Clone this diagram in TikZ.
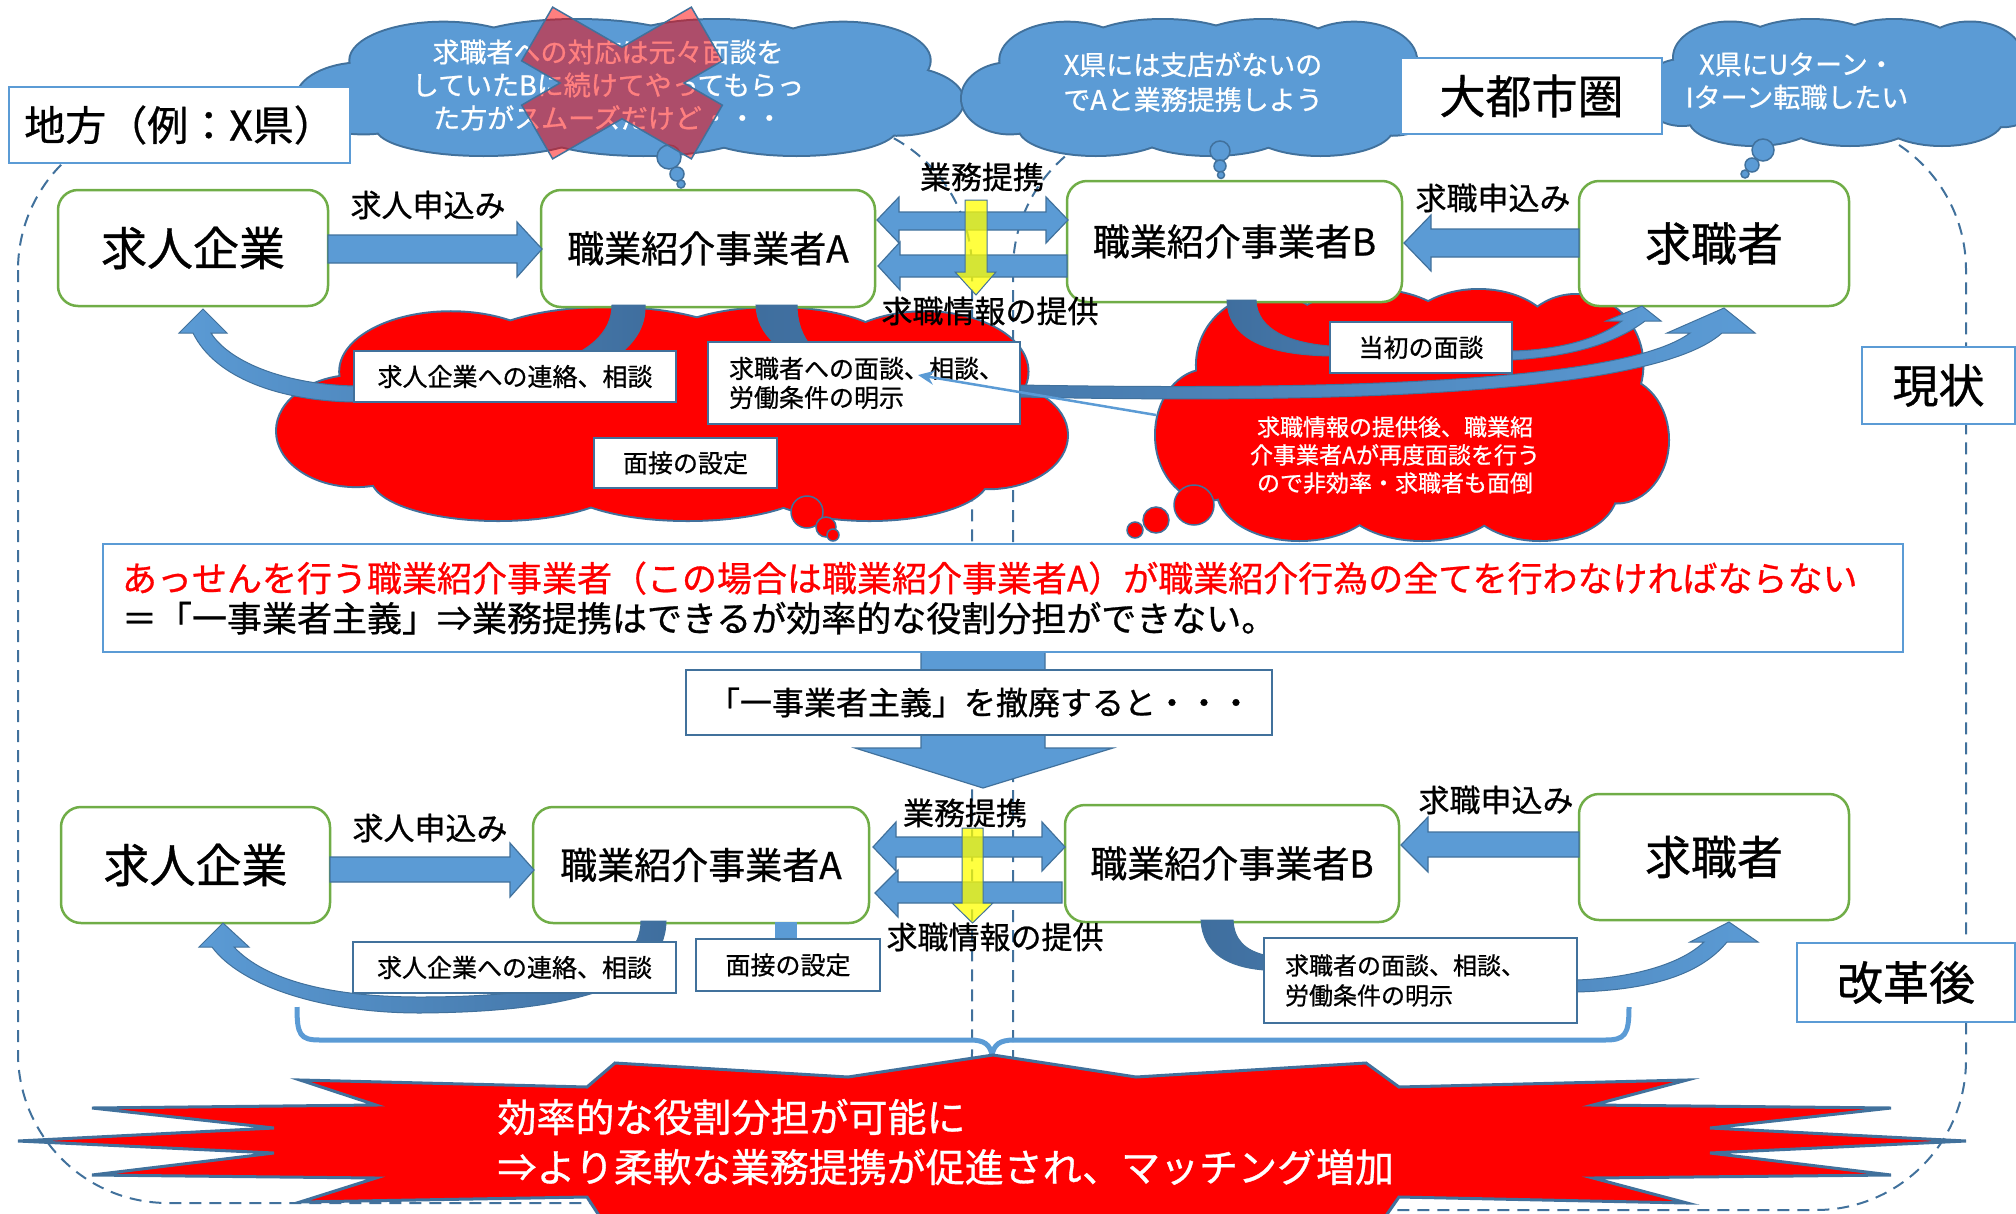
\documentclass[tikz,border=0pt]{standalone}
\usepackage{fontspec}
\setmainfont{Noto Sans CJK JP}[FakeBold=0.8]
\usetikzlibrary{arrows.meta}
\definecolor{ablue}{HTML}{5B9BD5}
\definecolor{dblue}{HTML}{3F6E9E}
\definecolor{bline}{HTML}{41719C}
\definecolor{lline}{HTML}{5B9BD5}
\definecolor{ngreen}{HTML}{70AD47}
\definecolor{cred}{HTML}{FF0000}
\definecolor{cyel}{HTML}{FFFF00}
\newcommand\setfs[2]{\fontsize{#1}{#2}\selectfont}
\def\cloudlobes{0.10/0.58/0.10/0.26, 0.22/0.30/0.14/0.28, 0.42/0.20/0.17/0.20, 0.63/0.20/0.15/0.20, 0.82/0.30/0.13/0.28, 0.90/0.60/0.10/0.25, 0.75/0.80/0.15/0.20, 0.52/0.82/0.16/0.18, 0.28/0.80/0.16/0.20, 0.50/0.52/0.38/0.34}
% #1 left, #2 top, #3 width, #4 height, #5 fill colour
\newcommand\puffcloud[5]{%
  \foreach \fx/\fy/\rx/\ry in \cloudlobes {%
    \pgfmathsetmacro\PX{#1+\fx*#3}\pgfmathsetmacro\PY{#2+\fy*#4}%
    \pgfmathsetmacro\RX{\rx*#3}\pgfmathsetmacro\RY{\ry*#4}%
    \draw[bline,line width=4pt] (\PX,\PY) ellipse[x radius=\RX pt,y radius=\RY pt];}%
  \foreach \fx/\fy/\rx/\ry in \cloudlobes {%
    \pgfmathsetmacro\PX{#1+\fx*#3}\pgfmathsetmacro\PY{#2+\fy*#4}%
    \pgfmathsetmacro\RX{\rx*#3}\pgfmathsetmacro\RY{\ry*#4}%
    \fill[#5] (\PX,\PY) ellipse[x radius=\RX pt,y radius=\RY pt];}%
}
\begin{document}
\begin{tikzpicture}[x=1pt,y=-1pt,
 nd/.style={draw=ngreen,line width=2.5pt,rounded corners=20pt,fill=white,inner sep=0pt,font=\setfs{46}{50}},
 ndab/.style={nd,font=\setfs{37}{40}},
 lbl/.style={draw=bline,line width=2pt,fill=white,inner sep=0pt,font=\setfs{25}{29}},
 tbox/.style={draw=lline,line width=2pt,fill=white,inner sep=0pt,font=\setfs{46}{50}},
 barrow/.style={fill=ablue,draw=bline,line width=1.2pt},
 yarrow/.style={fill=cyel,fill opacity=0.75,draw=bline,line width=1pt},
 bub/.style={fill=ablue,draw=bline,line width=1.5pt},
 rbub/.style={fill=cred,draw=bline,line width=1.5pt},
 region/.style={draw=bline,line width=2pt,dash pattern=on 12pt off 8pt,rounded corners=150pt},
 curv/.style={draw=bline,line width=1pt},
 ctext/.style={text=white,align=center,font=\setfs{27}{34}},
 alabel/.style={font=\setfs{31}{34}}]
\useasboundingbox (0,0) rectangle (2016,1213);
\clip (0,0) rectangle (2016,1213);

% ---------- regions ----------
\draw[region] (18,120) rectangle (972,1203);
\draw[region] (1013,120) rectangle (1966,1210);

% ---------- top clouds ----------
\puffcloud{297}{20}{666}{135}{ablue}
\coordinate (cloudL) at (630,88);
\draw[bub] (669,157) circle[radius=12pt];
\draw[bub] (677,174) circle[radius=7pt];
\draw[bub] (681,184) circle[radius=4pt];
\node[ctext,font=\setfs{27}{33}] (cloudLt) at (608,85) {求職者への対応は元々面談を\\していたBに続けてやってもらっ\\た方がスムーズだけど・・・};
\path[fill=cred,fill opacity=0.5,draw=bline,line width=1.5pt] (552.63,7.15) -- (622,47.2) -- (691.37,7.15) -- (722.37,60.85) -- (684,83) -- (722.37,105.15) -- (691.37,158.85) -- (622,118.8) -- (552.63,158.85) -- (521.63,105.15) -- (560,83) -- (521.63,60.85) -- cycle;

\puffcloud{962}{20}{478}{135}{ablue}
\coordinate (cloudM) at (1200,88);
\draw[bub] (1220,151) circle[radius=10pt];
\draw[bub] (1220,166) circle[radius=6pt];
\draw[bub] (1221,175) circle[radius=3.5pt];
\node[ctext,font=\setfs{27}{35}] (cloudMt) at (1193,82) {X県には支店がないの\\でAと業務提携しよう};

\puffcloud{1642}{20}{400}{125}{ablue}
\coordinate (cloudR) at (1840,82);
\draw[bub] (1763,150) circle[radius=11pt];
\draw[bub] (1752,165) circle[radius=7pt];
\draw[bub] (1745,174) circle[radius=4pt];
\node[ctext,font=\setfs{27}{33}] (cloudRt) at (1797,81) {X県にUターン・\\Iターン転職したい};

\node[tbox,minimum width=341pt,minimum height=76pt,font=\setfs{41}{44}] (chiho) at (179.5,125) {地方（例：X県）};
\node[tbox,minimum width=261pt,minimum height=76pt] (daitoshi) at (1531.5,96) {大都市圏};

% ---------- red clouds (current) ----------
\puffcloud{277}{308}{790}{212}{cred}
\draw[rbub] (807,512) circle[radius=16pt];
\draw[rbub] (826,527) circle[radius=10pt];
\draw[rbub] (833,535) circle[radius=6pt];
\puffcloud{1156}{290}{512}{250}{cred}
\draw[rbub] (1194,505) circle[radius=20pt];
\draw[rbub] (1156,520) circle[radius=13pt];
\draw[rbub] (1135,530) circle[radius=8pt];
\node[ctext,font=\setfs{23}{28}] (redRt) at (1395,455) {求職情報の提供後、職業紹\\介事業者Aが再度面談を行う\\ので非効率・求職者も面倒};

% ---------- top row nodes ----------
\node[nd,minimum width=270pt,minimum height=116pt] (kyujinT) at (193,248) {求人企業};
\node[ndab,minimum width=334pt,minimum height=117pt] (aT) at (708,248.5) {職業紹介事業者A};
\node[ndab,minimum width=335pt,minimum height=121pt] (bT) at (1234.5,241.5) {職業紹介事業者B};
\node[nd,minimum width=270pt,minimum height=125pt] (kyushokuT) at (1714,243.5) {求職者};

% curved arrows (top)
\path[curv,left color=ablue,right color=dblue] (612,305) .. controls (612,360) and (520,387) .. (354,386) .. controls (280,384) and (228,360) .. (211,333) -- (227,333) -- (203,309) -- (179,333) -- (193,333) .. controls (215,378) and (280,401) .. (354,402) .. controls (520,405) and (648,375) .. (645,305) -- cycle;
\path[curv,left color=dblue,right color=ablue] (756,305) .. controls (758,365) and (850,385) .. (1020,385) .. controls (1300,390) and (1620,385) .. (1690,333) -- (1667,333) -- (1724,308) -- (1755,333) -- (1722,333) .. controls (1650,398) and (1300,403) .. (1020,397) .. controls (850,395) and (797,360) .. (797,305) -- cycle;
\path[curv,left color=dblue,right color=ablue] (1227,300) .. controls (1228,345) and (1280,355) .. (1330,356) -- (1512,360) .. controls (1580,356) and (1620,340) .. (1645,321) -- (1661,321) -- (1642,306) -- (1606,321) -- (1622,321) .. controls (1600,338) and (1560,350) .. (1512,351) -- (1330,346) .. controls (1290,343) and (1257,330) .. (1256,300) -- cycle;

\node[lbl,minimum width=322pt,minimum height=51pt] (renrakuT) at (515,376.5) {求人企業への連絡、相談};
\node[lbl,text width=270pt,inner xsep=21pt,minimum height=82pt,align=left] (mendanT) at (864,383) {求職者への面談、相談、\\労働条件の明示};
\node[lbl,minimum width=183pt,minimum height=50pt] (setteiT) at (685.5,463) {面接の設定};
\node[lbl,minimum width=182pt,minimum height=51pt] (tosho) at (1421,347.5) {当初の面談};

\coordinate (thinS) at (1156,415);
\coordinate (thinE) at (918,375);
\draw[ablue,line width=2.5pt,-{Stealth[length=16pt,width=14pt]}] (thinS) -- (thinE);

% block arrows (top)
\path[barrow] (328,235) -- (517,235) -- (517,222) -- (542,249) -- (517,277) -- (517,263) -- (328,263) -- cycle;
\path[barrow] (1579,229) -- (1431,229) -- (1431,215) -- (1404,243) -- (1431,271) -- (1431,257) -- (1579,257) -- cycle;
\path[barrow] (877,220) -- (899,197) -- (899,212) -- (1046,212) -- (1046,197) -- (1068,220) -- (1046,243) -- (1046,230) -- (899,230) -- (899,243) -- cycle;
\path[barrow] (878,266) -- (900,242) -- (900,255) -- (1067,255) -- (1067,277) -- (900,277) -- (900,290) -- cycle;
\path[yarrow] (965,200) -- (987,200) -- (987,272) -- (996,272) -- (976,295) -- (955,272) -- (965,272) -- cycle;
\node[alabel] (lab1) at (428,205) {求人申込み};
\node[alabel] (lab2) at (1493,198) {求職申込み};
\node[alabel] (lab3) at (982,177) {業務提携};
\node[alabel] (lab4) at (990,311) {求職情報の提供};

\node[tbox,minimum width=153pt,minimum height=77pt] (genjo) at (1938.5,385.5) {現状};

% ---------- middle ----------
\path[barrow] (921,650) -- (1045,650) -- (1045,748) -- (1113,748) -- (983,788) -- (855,748) -- (921,748) -- cycle;
\node[tbox,text width=1762pt,inner xsep=19pt,minimum height=108pt,align=left,font=\setfs{35}{40}] (midbox) at (1003,598) {\textcolor{cred}{あっせんを行う職業紹介事業者（この場合は職業紹介事業者A）が職業紹介行為の全てを行わなければならない}\\＝「一事業者主義」⇒業務提携はできるが効率的な役割分担ができない。};
\node[lbl,text width=542pt,inner xsep=22pt,minimum height=65pt,align=left,font=\setfs{32}{36}] (teppai) at (979,702.5) {「一事業者主義」を撤廃すると・・・};

% ---------- bottom row ----------
\node[nd,minimum width=269pt,minimum height=116pt] (kyujinB) at (195.5,865) {求人企業};
\node[ndab,minimum width=336pt,minimum height=116pt] (aB) at (701,865) {職業紹介事業者A};
\node[ndab,minimum width=334pt,minimum height=117pt] (bB) at (1232,863.5) {職業紹介事業者B};
\node[nd,minimum width=270pt,minimum height=126pt] (kyushokuB) at (1714,857) {求職者};

\path[curv,left color=ablue,right color=dblue] (666,921) .. controls (665,990) and (560,1012) .. (420,1013) .. controls (320,1013) and (240,985) .. (212,947) -- (199,947) -- (223,923) -- (249,947) -- (234,947) .. controls (265,980) and (330,997) .. (420,997) .. controls (560,997) and (641,975) .. (641,921) -- cycle;
\path[curv,left color=dblue,right color=ablue] (1201,920) .. controls (1203,955) and (1230,967) .. (1264,970) -- (1577,992) .. controls (1650,990) and (1700,975) .. (1727,942) -- (1758,942) -- (1729,922) -- (1690,942) -- (1704,942) .. controls (1680,965) and (1630,978) .. (1577,980) -- (1264,955) .. controls (1245,950) and (1234,940) .. (1233,920) -- cycle;
\fill[ablue] (775,922) rectangle (797,940);

\node[lbl,minimum width=323pt,minimum height=51pt] (renrakuB) at (514.5,967.5) {求人企業への連絡、相談};
\node[lbl,minimum width=184pt,minimum height=52pt] (setteiB) at (788,965) {面接の設定};
\node[lbl,text width=271pt,inner xsep=21pt,minimum height=85pt,align=left,font=\setfs{24}{30}] (mendanB) at (1420.5,980.5) {求職者の面談、相談、\\労働条件の明示};

\path[barrow] (330,857) -- (510,857) -- (510,843) -- (534,870) -- (510,897) -- (510,882) -- (330,882) -- cycle;
\path[barrow] (1579,832) -- (1428,832) -- (1428,817) -- (1401,845) -- (1428,872) -- (1428,857) -- (1579,857) -- cycle;
\path[barrow] (873,847) -- (896,822) -- (896,837) -- (1042,837) -- (1042,822) -- (1065,847) -- (1042,871) -- (1042,857) -- (896,857) -- (896,871) -- cycle;
\path[barrow] (875,893) -- (898,870) -- (898,882) -- (1062,882) -- (1062,903) -- (898,903) -- (898,917) -- cycle;
\path[yarrow] (962,828) -- (983,828) -- (983,903) -- (993,903) -- (972.5,923) -- (952,903) -- (962,903) -- cycle;
\node[alabel] (lab5) at (430,828) {求人申込み};
\node[alabel] (lab6) at (1496,800) {求職申込み};
\node[alabel] (lab7) at (965,813) {業務提携};
\node[alabel] (lab8) at (995,937) {求職情報の提供};

% brace
\draw[lline,line width=5pt,line join=round] (297,1007) .. controls (297,1035) and (300,1040) .. (320,1040) -- (970,1040) .. controls (985,1040) and (990,1045) .. (992,1055) .. controls (994,1045) and (999,1040) .. (1014,1040) -- (1605,1040) .. controls (1625,1040) and (1629,1035) .. (1629,1007);

% star
\path[fill=cred,draw=bline,line width=3pt,line join=miter] (18,1141) -- (274,1128) -- (92,1108) -- (376,1105) -- (300,1080) -- (587,1087) -- (615,1063) -- (848,1077) -- (993,1055) -- (1136,1077) -- (1366,1063) -- (1399,1087) -- (1687,1080) -- (1593,1105) -- (1891,1108) -- (1710,1128) -- (1966,1141) -- (1710,1153) -- (1891,1175) -- (1593,1178) -- (1687,1203) -- (1399,1197) -- (1369,1240) -- (993,1260) -- (615,1240) -- (587,1197) -- (300,1202) -- (376,1178) -- (92,1175) -- (274,1153) -- cycle;
\node[text=white,align=left,anchor=west,font=\setfs{39}{50}] (startext) at (494,1142) {効率的な役割分担が可能に\\⇒より柔軟な業務提携が促進され、マッチング増加};

\node[tbox,minimum width=218pt,minimum height=79pt] (kaikaku) at (1906,982.5) {改革後};
\end{tikzpicture}
\end{document}
